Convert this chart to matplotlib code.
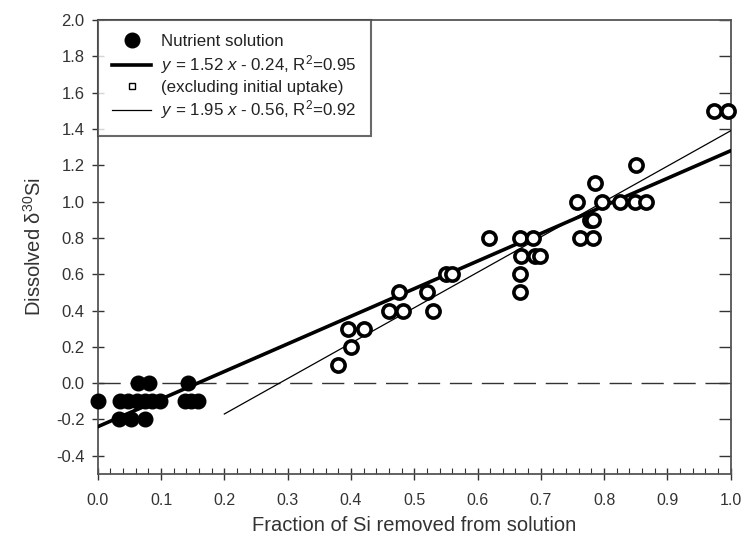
import matplotlib
matplotlib.use('Agg')
import matplotlib.pyplot as plt
from matplotlib.lines import Line2D
import numpy as np

plt.rcParams['font.family'] = ['Liberation Sans', 'DejaVu Sans']
plt.rcParams['mathtext.fontset'] = 'custom'
plt.rcParams['mathtext.rm'] = 'Liberation Sans'
plt.rcParams['mathtext.it'] = 'Liberation Sans:italic'

# nutrient solution (filled)
x_nut = [0.0, 0.035, 0.048, 0.062, 0.075, 0.085, 0.098, 0.138, 0.148, 0.159,
         0.064, 0.081, 0.143,
         0.033, 0.053, 0.075]
y_nut = [-0.1, -0.1, -0.1, -0.1, -0.1, -0.1, -0.1, -0.1, -0.1, -0.1,
         0.0, 0.0, 0.0,
         -0.2, -0.2, -0.2]

# excluding initial uptake (open)
x_exc = [0.38, 0.40, 0.396, 0.42, 0.46, 0.483, 0.476, 0.52, 0.529, 0.551, 0.559,
         0.618, 0.667, 0.688, 0.669, 0.691, 0.699, 0.667, 0.667,
         0.85, 0.786, 0.757, 0.797, 0.825, 0.849, 0.866, 0.778, 0.783, 0.762, 0.782,
         0.974, 0.996]
y_exc = [0.1, 0.2, 0.3, 0.3, 0.4, 0.4, 0.5, 0.5, 0.4, 0.6, 0.6,
         0.8, 0.8, 0.8, 0.7, 0.7, 0.7, 0.6, 0.5,
         1.2, 1.1, 1.0, 1.0, 1.0, 1.0, 1.0, 0.9, 0.9, 0.8, 0.8,
         1.5, 1.5]

# regression lines
fit_all = (1.52, -0.24)
fit_exc = (1.95, -0.56)
xfit_all = np.array([0.0, 1.0])
xfit_exc = np.array([0.2, 1.0])

fig = plt.figure(figsize=(7.46, 5.48), dpi=100)
ax = fig.add_axes([0.131, 0.1352, 0.8485, 0.8283])

ax.axhline(0, color='#333333', lw=1, dashes=(16, 7), zorder=1)

ax.plot(xfit_all, fit_all[0] * xfit_all + fit_all[1], color='black', lw=2.6, zorder=3)
ax.plot(xfit_exc, fit_exc[0] * xfit_exc + fit_exc[1], color='black', lw=0.9, zorder=3)

ax.plot(x_nut, y_nut, 'o', color='black', ms=10.5, zorder=4, clip_on=False)
ax.plot(x_exc, y_exc, 'o', mfc='white', mec='black', ms=9.5, mew=2.6, zorder=4, clip_on=False)

ax.set_xlim(0, 1.0)
ax.set_ylim(-0.5, 2.0)
ax.set_xticks(np.arange(0, 1.01, 0.1))
ax.set_xticks(np.arange(0, 1.001, 0.02), minor=True)
ax.set_yticks(np.arange(-0.4, 2.01, 0.2))
ax.set_xticklabels([f'{v:.1f}' for v in np.arange(0, 1.01, 0.1)])
ax.set_yticklabels([f'{v:.1f}' for v in np.arange(-0.4, 2.01, 0.2)])

ax.tick_params(axis='x', which='major', direction='inout', length=9, width=1,
               colors='#333333', labelsize=11.5, pad=9)
ax.tick_params(axis='x', which='minor', direction='in', length=4, width=0.8, colors='#333333')
ax.tick_params(axis='y', which='major', direction='inout', length=9, width=1,
               colors='#333333', labelsize=12, pad=5, right=True)
for t in ax.yaxis.get_ticklines()[1::2]:
    t.set_marker(0)
for lab in ax.get_xticklabels() + ax.get_yticklabels():
    lab.set_color('#333333')

for s in ax.spines.values():
    s.set_color('#555555')
    s.set_linewidth(1.3)

ax.set_xlabel('Fraction of Si removed from solution', fontsize=14.5, color='#333333', labelpad=6)
ax.set_ylabel('Dissolved δ$^{30}$Si', fontsize=14.5, color='#333333', labelpad=8)

handles = [
    Line2D([], [], ls='none', marker='o', color='black', ms=10.5),
    Line2D([], [], color='black', lw=2.6),
    Line2D([], [], ls='none', marker='s', mfc='white', mec='black', ms=4.5, mew=1),
    Line2D([], [], color='black', lw=0.9),
]
labels = [
    'Nutrient solution',
    '$y$ = 1.52 $x$ - 0.24, R$^2$=0.95',
    '(excluding initial uptake)',
    '$y$ = 1.95 $x$ - 0.56, R$^2$=0.92',
]
leg = ax.legend(handles, labels, loc='upper left', bbox_to_anchor=(0, 1), borderaxespad=0,
                fontsize=12.2, handlelength=2.3, handletextpad=0.6, labelspacing=0.22,
                frameon=True, fancybox=False, borderpad=0.85)
leg.get_frame().set_edgecolor('#444444')
leg.get_frame().set_linewidth(1.5)
for t in leg.get_texts():
    t.set_color('#222222')

fig.savefig('out.png', dpi=100)
